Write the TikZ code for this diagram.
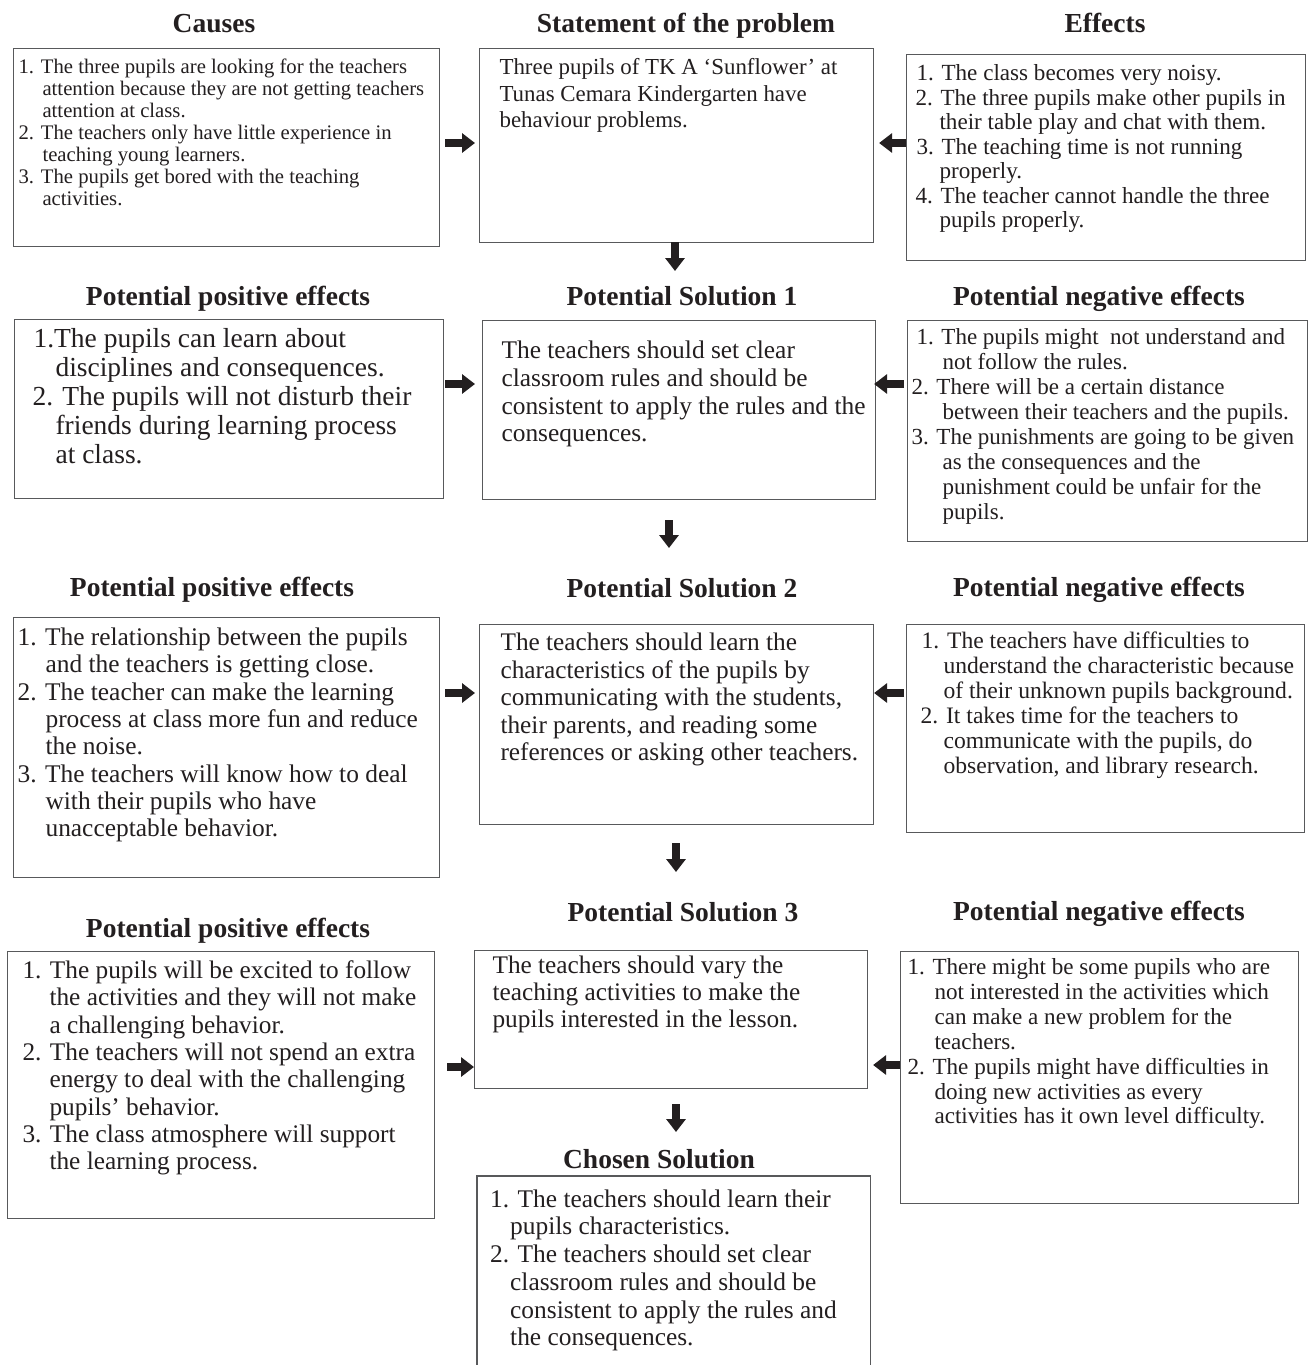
\documentclass[tikz,border=0pt]{standalone}
\usepackage{fontspec}
\setmainfont{Liberation Serif}
\usetikzlibrary{arrows.meta}
\definecolor{ink}{HTML}{231F20}
\definecolor{frame}{HTML}{58595B}
\newcommand\lift{}
\newcommand\LB{\newline}
% #1 width, #2 height, #3 size, #4 skip, #5 first baseline, #6 content
\newcommand\bxt[6]{\parbox[t][#2][t]{#1}{\fontsize{#3}{#4}\selectfont\raggedright
  \lineskiplimit=-100pt\lineskip=0pt\parskip=0pt
  \gdef\lift{\rule{0pt}{#5}\gdef\lift{}}#6}}
% #1 first-line indent, #2 hanging indent, #3 text
\newcommand\itm[3]{\noindent\hangindent=#2\hangafter=1\hspace*{#1}\lift #3\par}
% #1 left indent, #2 text
\newcommand\ptx[2]{{\leftskip=#1\noindent\lift #2\par}}
\begin{document}
\begin{tikzpicture}[x=1pt,y=-1pt,
  box/.style={draw=frame, line width=1.1pt, inner sep=0pt, anchor=north west, text=ink},
  openbox/.style={inner sep=0pt, anchor=north west, text=ink},
  ttl/.style={anchor=base, inner sep=0pt, text=ink, font=\fontsize{27.5}{30}\selectfont\bfseries},
  arr/.style={draw=ink, line width=7.5pt, -{Triangle[length=13pt,width=19pt]}}]
\fill[white] (0,0) rectangle (1311,1365);
\useasboundingbox (0,0) rectangle (1311,1365);

% ---------- titles ----------
\node[ttl] (tcauses) at (214,32) {Causes};
\node[ttl] (tstmt) at (686,32) {Statement of the problem};
\node[ttl] (teff) at (1105,32) {Effects};
\node[ttl] (tpos1) at (228,305) {Potential positive effects};
\node[ttl] (tsol1) at (682,305) {Potential Solution 1};
\node[ttl] (tneg1) at (1099,305) {Potential negative effects};
\node[ttl] (tpos2) at (212,596) {Potential positive effects};
\node[ttl] (tsol2) at (682,597) {Potential Solution 2};
\node[ttl] (tneg2) at (1099,596) {Potential negative effects};
\node[ttl] (tpos3) at (228,937) {Potential positive effects};
\node[ttl] (tsol3) at (683,921) {Potential Solution 3};
\node[ttl] (tneg3) at (1099,920) {Potential negative effects};
\node[ttl] (tchosen) at (659,1168) {Chosen Solution};

% ---------- row 1 ----------
\node[box] (causes) at (13,48) {\bxt{426pt}{198pt}{20.7pt}{22pt}{25pt}{%
\itm{5pt}{29pt}{1. The three pupils are looking for the teachers\LB attention because they are not getting teachers\LB attention at class.}
\itm{5pt}{29pt}{2. The teachers only have little experience in\LB teaching young learners.}
\itm{5pt}{29pt}{3. The pupils get bored with the teaching\LB activities.}}};

\node[box] (stmt) at (479,48) {\bxt{394pt}{194pt}{22.9pt}{26.7pt}{26pt}{%
\ptx{20pt}{Three pupils of TK A ‘Sunflower’ at\LB Tunas Cemara Kindergarten have\LB behaviour problems.}}};

\node[box] (effects) at (906,54) {\bxt{399pt}{206pt}{23.1pt}{24.5pt}{26pt}{%
\itm{10pt}{33pt}{1. The class becomes very noisy.}
\itm{9pt}{33pt}{2. The three pupils make other pupils in\LB their table play and chat with them.}
\itm{10pt}{33pt}{3. The teaching time is not running\LB properly.}
\itm{9pt}{33pt}{4. The teacher cannot handle the three\LB pupils properly.}}};

% ---------- row 2 ----------
\node[box] (pos1) at (14,319) {\bxt{429pt}{179pt}{27.5pt}{29pt}{28pt}{%
\itm{19pt}{41pt}{1.The pupils can learn about\LB disciplines and consequences.}
\itm{18pt}{41pt}{2. The pupils will not disturb their\LB friends during learning process\LB at class.}}};

\node[box] (sol1) at (482,320) {\bxt{393pt}{179pt}{25.4pt}{27.8pt}{38pt}{%
\ptx{19pt}{The teachers should set clear\LB classroom rules and should be\LB consistent to apply the rules and the\LB consequences.}}};

\node[box] (neg1) at (907,320) {\bxt{400pt}{221pt}{23pt}{25pt}{24pt}{%
\itm{9pt}{35pt}{1. The pupils might~ not understand and\LB not follow the rules.}
\itm{4pt}{35pt}{2. There will be a certain distance\LB between their teachers and the pupils.}
\itm{4pt}{35pt}{3. The punishments are going to be given\LB as the consequences and the\LB punishment could be unfair for the\LB pupils.}}};

% ---------- row 3 ----------
\node[box] (pos2) at (13,617) {\bxt{426pt}{260pt}{25.4pt}{27.3pt}{28pt}{%
\itm{4pt}{32pt}{1. The relationship between the pupils\LB and the teachers is getting close.}
\itm{4pt}{32pt}{2. The teacher can make the learning\LB process at class more fun and reduce\LB the noise.}
\itm{4pt}{32pt}{3. The teachers will know how to deal\LB with their pupils who have\LB unacceptable behavior.}}};

\node[box] (sol2) at (479,624) {\bxt{394pt}{200pt}{25.3pt}{27.5pt}{26pt}{%
\ptx{21pt}{The teachers should learn the\LB characteristics of the pupils by\LB communicating with the students,\LB their parents, and reading some\LB references or asking other teachers.}}};

\node[box] (neg2) at (906,624) {\bxt{398pt}{208pt}{23.6pt}{25pt}{24pt}{%
\itm{15pt}{37pt}{1. The teachers have difficulties to\LB understand the characteristic because\LB of their unknown pupils background.}
\itm{14pt}{37pt}{2. It takes time for the teachers to\LB communicate with the pupils, do\LB observation, and library research.}}};

% ---------- row 4 ----------
\node[box] (pos3) at (7,951) {\bxt{427pt}{267pt}{25.3pt}{27.3pt}{27pt}{%
\itm{15pt}{42pt}{1. The pupils will be excited to follow\LB the activities and they will not make\LB a challenging behavior.}
\itm{15pt}{42pt}{2. The teachers will not spend an extra\LB energy to deal with the challenging\LB pupils’ behavior.}
\itm{15pt}{42pt}{3. The class atmosphere will support\LB the learning process.}}};

\node[box] (sol3) at (474,950) {\bxt{393pt}{138pt}{25.3pt}{27pt}{23pt}{%
\ptx{18pt}{The teachers should vary the\LB teaching activities to make the\LB pupils interested in the lesson.}}};

\node[box] (neg3) at (900,951) {\bxt{398pt}{252pt}{23.1pt}{24.9pt}{23pt}{%
\itm{7pt}{34pt}{1. There might be some pupils who are\LB not interested in the activities which\LB can make a new problem for the\LB teachers.}
\itm{7pt}{34pt}{2. The pupils might have difficulties in\LB doing new activities as every\LB activities has it own level difficulty.}}};

% ---------- chosen solution (bottom cut off) ----------
\node[openbox] (chosen) at (477,1176) {\bxt{393pt}{192pt}{25.4pt}{27.7pt}{31pt}{%
\itm{13pt}{33pt}{1. The teachers should learn their\LB pupils characteristics.}
\itm{13pt}{33pt}{2. The teachers should set clear\LB classroom rules and should be\LB consistent to apply the rules and\LB the consequences.}}};
\draw[draw=frame, line width=1.1pt] (chosen.south west) -- (chosen.north west) -- (chosen.north east) -- (chosen.south east);

% ---------- arrows ----------
\draw[arr, shorten <=5pt, shorten >=4pt] (causes.east |- 0,143) -- (stmt.west |- 0,143);
\draw[arr, shorten >=5pt] (effects.west |- 0,143) -- (stmt.east |- 0,143);
\draw[arr, shorten <=-1pt, shorten >=49pt] (stmt.south -| 675,0) -- (sol1.north -| 675,0);

\draw[arr, shorten <=1pt, shorten >=7pt] (pos1.east |- 0,384) -- (sol1.west |- 0,384);
\draw[arr, shorten <=3pt, shorten >=-2pt] (neg1.west |- 0,384) -- (sol1.east |- 0,384);
\draw[arr, shorten <=20pt, shorten >=76pt] (sol1.south -| 669,0) -- (sol2.north -| 669,0);

\draw[arr, shorten <=5pt, shorten >=4pt] (pos2.east |- 0,693) -- (sol2.west |- 0,693);
\draw[arr, shorten <=2pt, shorten >=0pt] (neg2.west |- 0,693) -- (sol2.east |- 0,693);
\draw[arr, shorten <=18pt, shorten >=78pt] (sol2.south -| 676,0) -- (sol3.north -| 676,0);

\draw[arr, shorten <=12pt, shorten >=0pt] (pos3.east |- 0,1067) -- (sol3.west |- 0,1067);
\draw[arr, shorten <=0pt, shorten >=5pt] (neg3.west |- 0,1065) -- (sol3.east |- 0,1065);
\draw[arr, shorten <=15pt, shorten >=44pt] (sol3.south -| 676,0) -- (chosen.north -| 676,0);
\end{tikzpicture}
\end{document}
